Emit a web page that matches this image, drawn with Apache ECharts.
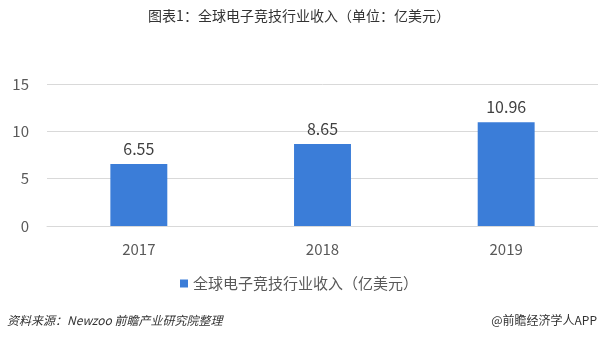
<!DOCTYPE html>
<html><head><meta charset="utf-8">
<script src="https://cdn.jsdelivr.net/npm/echarts@6/dist/echarts.min.js"></script>
<style>html,body{margin:0;padding:0;background:#fff}#c{width:598px;height:337px}</style>
</head><body><div id="c"></div>
<script>
const categories = ['2017', '2018', '2019'];
const revenue = [6.55, 8.65, 10.96];
const yTicks = [0, 5, 10, 15];
const seriesName = '全球电子竞技行业收入（亿美元）';
const titleText = '图表1：全球电子竞技行业收入（单位：亿美元）';
const sourceText = '资料来源：Newzoo 前瞻产业研究院整理';
const creditText = '@前瞻经济学人APP';

const font = '"Noto Sans CJK SC", "Microsoft YaHei", sans-serif';
const chart = echarts.init(document.getElementById('c'), null, {renderer: 'canvas'});
chart.setOption({
  backgroundColor: '#fff',
  animation: false,
  textStyle: {fontFamily: font},
  title: [
    {text: titleText, left: 'center', top: 4, textStyle: {fontSize: 14, fontWeight: 'normal', color: '#333', fontFamily: font}},
    {text: sourceText, left: 2, top: 309, textStyle: {fontSize: 12, fontWeight: 'normal', fontStyle: 'italic', color: '#333', fontFamily: font}},
    {text: creditText, right: -4, top: 309, textStyle: {fontSize: 12, fontWeight: 'normal', color: '#333', fontFamily: font}}
  ],
  legend: {
    bottom: 41, left: 'center',
    itemWidth: 8, itemHeight: 8, itemGap: 6,
    icon: 'rect',
    textStyle: {fontSize: 15, color: '#595959', fontFamily: font},
    data: [seriesName]
  },
  grid: {left: 47, right: 0, top: 84, bottom: 111, containLabel: false},
  xAxis: {
    type: 'category', data: categories,
    axisLine: {show: true, lineStyle: {color: '#d9d9d9'}},
    axisTick: {show: false},
    axisLabel: {fontSize: 15, color: '#595959', margin: 16, fontFamily: font}
  },
  yAxis: {
    type: 'value', min: yTicks[0], max: yTicks[yTicks.length - 1], interval: 5,
    axisLine: {show: false}, axisTick: {show: false},
    splitLine: {lineStyle: {color: '#d9d9d9'}},
    axisLabel: {fontSize: 15, color: '#595959', margin: 18, fontFamily: font}
  },
  series: [{
    name: seriesName, type: 'bar', data: revenue,
    barWidth: '31%',
    itemStyle: {color: '#3b7dd8'},
    label: {show: true, position: 'top', distance: 7, fontSize: 16, color: '#404040', fontFamily: font}
  }]
});
</script></body></html>
